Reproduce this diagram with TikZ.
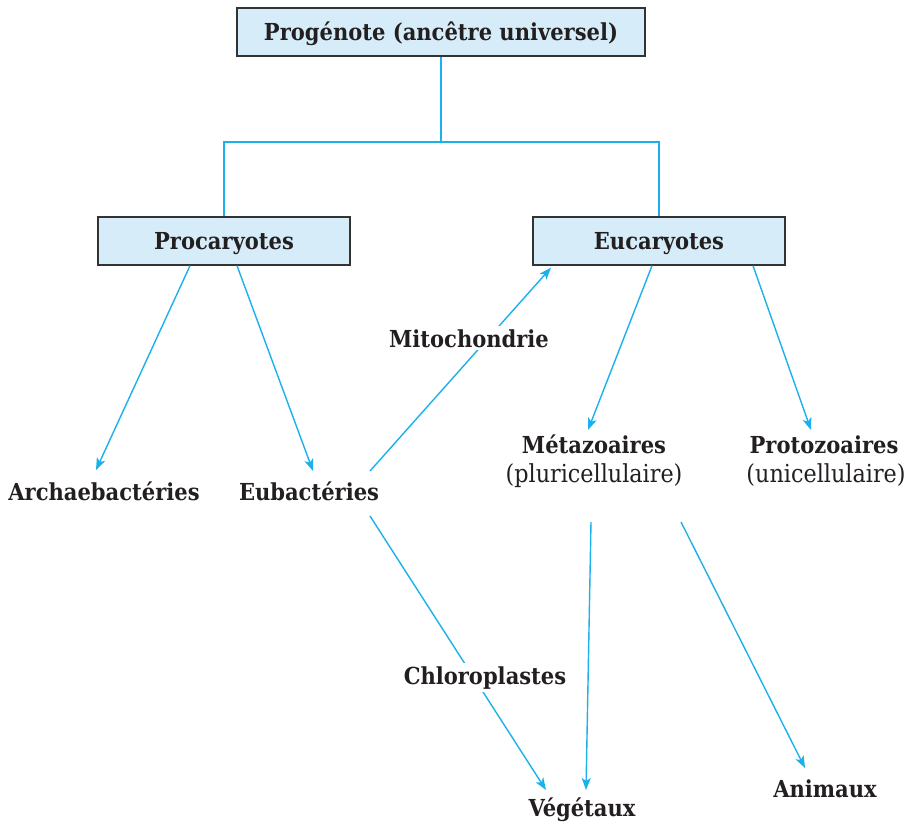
\documentclass[tikz,border=0pt]{standalone}
\usepackage{fontspec}
\setmainfont{DejaVu Serif Condensed}
\usetikzlibrary{arrows.meta}
\definecolor{linkc}{HTML}{1CB0EC}
\definecolor{boxfill}{HTML}{D6EDF9}
\definecolor{boxdraw}{HTML}{333333}
\definecolor{txt}{HTML}{231F20}
\begin{document}
\begin{tikzpicture}[x=1pt,y=-1pt,
  box/.style={draw=boxdraw,fill=boxfill,line width=1.4pt,minimum height=48pt,inner sep=0pt,text height=16.5pt,text depth=0pt,font=\bfseries\fontsize{23.4}{26}\selectfont,text=txt},
  lbl/.style={inner sep=0pt,font=\bfseries\fontsize{23.4}{26}\selectfont,text=txt},
  sublbl/.style={inner sep=0pt,font=\fontsize{24.8}{27}\selectfont,text=txt},
  link/.style={draw=linkc,line width=1.4pt},
  arr/.style={link,-{Stealth[length=12pt,width=9pt,inset=3pt]}},
  tag/.style={lbl,fill=white,inner sep=3pt}]
\useasboundingbox (0,0) rectangle (915,824);
% boxes
\node[box,minimum width=408pt] (prog) at (441,32) {Progénote (ancêtre universel)};
\node[box,minimum width=252pt] (proc) at (224,241) {Procaryotes};
\node[box,minimum width=252pt] (euc) at (659,241) {Eucaryotes};
% text nodes
\node[lbl,anchor=base] (arch) at (104,500) {Archaebactéries};
\node[lbl,anchor=base] (eub) at (309,500) {Eubactéries};
\node[lbl,anchor=base] (meta) at (594,453) {Métazoaires};
\node[sublbl,anchor=base] (pluri) at (594,482) {(pluricellulaire)};
\node[lbl,anchor=base] (proto) at (824,453) {Protozoaires};
\node[sublbl,anchor=base] (uni) at (826,482) {(unicellulaire)};
\node[lbl,anchor=base] (veg) at (582,816) {Végétaux};
\node[lbl,anchor=base] (anim) at (825,797) {Animaux};
% arrow end points
\coordinate (archtip) at (96,470);
\coordinate (eubtip) at (313,471);
\coordinate (mitstart) at (370,471);
\coordinate (chlstart) at (370,516);
\coordinate (vegtipa) at (546,790);
\coordinate (metatip) at (588,430);
\coordinate (prototip) at (811,430);
\coordinate (metsa) at (591,522);
\coordinate (metsb) at (681,522);
\coordinate (vegtipb) at (586,790);
\coordinate (animtip) at (805,768);
% tree
\coordinate (junc) at (441,142);
\draw[link] (prog.south) -- (junc);
\draw[link] (proc.north) |- (junc) -| (euc.north);
% arrows
\draw[arr] ([xshift=-34pt]proc.south) -- (archtip);
\draw[arr] ([xshift=13pt]proc.south) -- (eubtip);
\draw[arr] (mitstart) -- ([xshift=-108pt,yshift=-2pt]euc.south);
\draw[arr] (chlstart) -- (vegtipa);
\draw[arr] ([xshift=-7pt]euc.south) -- (metatip);
\draw[arr] ([xshift=94pt]euc.south) -- (prototip);
\draw[arr] (metsa) -- (vegtipb);
\draw[arr] (metsb) -- (animtip);
% labels over lines
\node[tag,anchor=base] (mito) at (469,347) {Mitochondrie};
\node[tag,anchor=base] (chloro) at (485,684) {Chloroplastes};
\end{tikzpicture}
\end{document}
